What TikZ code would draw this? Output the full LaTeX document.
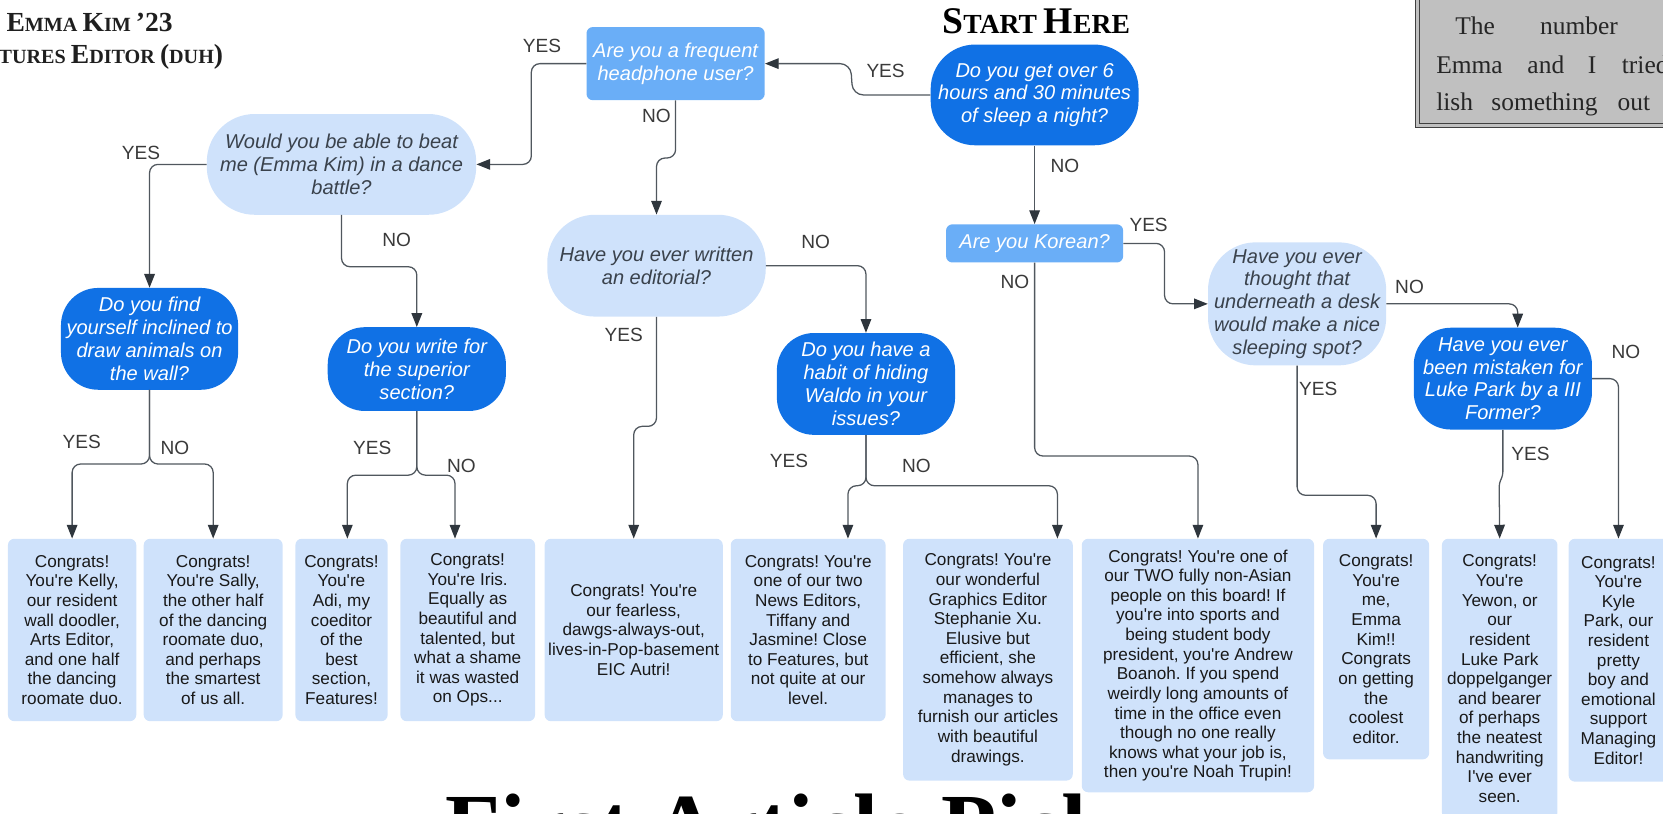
\documentclass[tikz,border=0pt]{standalone}
\usepackage{fontspec}
\setmainfont{Liberation Serif}
\newfontfamily\lsans{Liberation Sans}
\newfontfamily\lserif{Liberation Serif}
\usetikzlibrary{arrows.meta}
\definecolor{darkb}{HTML}{1071E5}
\definecolor{medb}{HTML}{6AAEF7}
\definecolor{lightb}{HTML}{CFE2FB}
\definecolor{linec}{HTML}{50575E}
\definecolor{arrowc}{HTML}{2F363D}
\definecolor{qtext}{HTML}{3A424C}
\definecolor{lblc}{HTML}{3A3A3A}
\definecolor{boxgray}{HTML}{C0C0C0}
\newcommand\qfont{\lsans\itshape\fontsize{18.9}{21.5}\selectfont\frenchspacing}
\newcommand\cfont{\lsans\fontsize{16.2}{18.5}\selectfont\frenchspacing}
\newcommand\hdbig{\fontsize{26}{30}\selectfont}
\newcommand\hdsmall{\fontsize{19}{30}\selectfont}
\newcommand\stbig{\fontsize{35.5}{40}\selectfont}
\newcommand\stsmall{\fontsize{26}{40}\selectfont}
\tikzset{
  q/.style={rectangle, inner sep=0pt, align=center, font=\qfont},
  qdark/.style={q, fill=darkb, text=white, rounded corners=35pt},
  qmed/.style={q, fill=medb, text=white, rounded corners=6pt},
  qlight/.style={q, fill=lightb, text=qtext, rounded corners=45pt},
  congrats/.style={rectangle, inner sep=0pt, align=center, fill=lightb, text=black!90, rounded corners=6pt, font=\cfont},
  conn/.style={draw=linec, line width=1.2pt, rounded corners=8pt, -{Triangle[length=13pt,width=10pt,color=arrowc]}},
  lbl/.style={inner sep=0pt, text=lblc, font=\lsans\fontsize{18}{18}\selectfont},
  boxword/.style={anchor=base west, inner sep=0pt, text=black!85, font=\lserif\fontsize{24}{28}\selectfont},
  head/.style={inner sep=0pt, text=black!88, font=\lserif\bfseries},
}
\begin{document}
\begin{tikzpicture}[x=1pt,y=-1pt]
\useasboundingbox (0,0) rectangle (1568,767);
\clip (0,0) rectangle (1568,767);

% headers
\node[head, anchor=base east] (hname) at (163,30) {\hdbig E\hdsmall MMA \hdbig K\hdsmall IM \hdbig ’23};
\node[head, anchor=base east] (hrole) at (210.6,59.5) {\hdbig F\hdsmall EATURES \hdbig E\hdsmall DITOR \hdbig(\hdsmall DUH\hdbig)};
\node[head, anchor=base, text=black] (hstart) at (977,31.4) {\stbig S\stsmall TART \stbig H\stsmall ERE};

% gray box
\fill[boxgray] (1335,-5) rectangle (1600,120);
\draw[line width=0.9pt, draw=black!75] (1335,-5) rectangle (1600,120);
\draw[line width=0.7pt, draw=black!75] (1338.5,-5) rectangle (1600,116.5);
\node[boxword] (w1) at (1372,33) {The};
\node[boxword] (w2) at (1452,33) {number};
\node[boxword] (w3) at (1354,69) {Emma};
\node[boxword] (w4) at (1440,69) {and};
\node[boxword] (w5) at (1497,69) {I};
\node[boxword] (w6) at (1529,69) {tried};
\node[boxword] (w7) at (1354,104) {lish};
\node[boxword] (w8) at (1406,104) {something};
\node[boxword] (w9) at (1525,104) {out};

% question nodes
\node[qdark, rounded corners=42pt, minimum width=196pt, minimum height=95pt] (start) at (975.5,89.5) {Do you get over 6\\hours and 30 minutes\\of sleep a night?};
\node[qmed, minimum width=168pt, minimum height=69pt] (headphone) at (637,60) {Are you a frequent\\headphone user?};
\node[qlight, minimum width=254pt, minimum height=95pt] (dance) at (322,155) {Would you be able to beat\\me (Emma Kim) in a dance\\battle?};
\node[qlight, minimum width=206pt, minimum height=96pt] (editorial) at (619,250.5) {Have you ever written\\an editorial?};
\node[qmed, minimum width=167pt, minimum height=36pt] (korean) at (975.5,229.5) {Are you Korean?};
\node[qlight, minimum width=168pt, minimum height=116pt] (desk) at (1223,286.5) {Have you ever\\thought that\\underneath a desk\\would make a nice\\sleeping spot?};
\node[qdark, minimum width=167pt, minimum height=96pt] (animals) at (141,319.5) {Do you find\\yourself inclined to\\draw animals on\\the wall?};
\node[qdark, minimum width=168pt, minimum height=79pt] (superior) at (393,348) {Do you write for\\the superior\\section?};
\node[qdark, minimum width=168pt, minimum height=96pt] (waldo) at (816.5,362) {Do you have a\\habit of hiding\\Waldo in your\\issues?};
\node[qdark, minimum width=168pt, minimum height=96pt] (luke) at (1417,357) {Have you ever\\been mistaken for\\Luke Park by a III\\Former?};

% result nodes
\node[congrats, minimum width=121pt, minimum height=172pt] (kelly) at (68,594) {Congrats!\\You're Kelly,\\our resident\\wall doodler,\\Arts Editor,\\and one half\\the dancing\\roomate duo.};
\node[congrats, minimum width=131pt, minimum height=172pt] (sally) at (201,594) {Congrats!\\You're Sally,\\the other half\\of the dancing\\roomate duo,\\and perhaps\\the smartest\\of us all.};
\node[congrats, minimum width=87pt, minimum height=172pt] (adi) at (322,594) {Congrats!\\You're\\Adi, my\\coeditor\\of the\\best\\section,\\Features!};
\node[congrats, minimum width=127pt, minimum height=172pt] (iris) at (441,594) {Congrats!\\You're Iris.\\Equally as\\beautiful and\\talented, but\\what a shame\\it was wasted\\on Ops...};
\node[congrats, minimum width=168pt, minimum height=172pt] (autri) at (597.5,594) {Congrats! You're\\our fearless,\\dawgs-always-out,\\lives-in-Pop-basement\\EIC Autri!};
\node[congrats, minimum width=146pt, minimum height=172pt] (news) at (762,594) {Congrats! You're\\one of our two\\News Editors,\\Tiffany and\\Jasmine! Close\\to Features, but\\not quite at our\\level.};
\node[congrats, minimum width=160pt, minimum height=228pt] (graphics) at (931.5,622) {Congrats! You're\\our wonderful\\Graphics Editor\\Stephanie Xu.\\Elusive but\\efficient, she\\somehow always\\manages to\\furnish our articles\\with beautiful\\drawings.};
\node[congrats, minimum width=219pt, minimum height=239pt] (trupin) at (1129.5,627.5) {Congrats! You're one of\\our TWO fully non-Asian\\people on this board! If\\you're into sports and\\being student body\\president, you're Andrew\\Boanoh. If you spend\\weirdly long amounts of\\time in the office even\\though no one really\\knows what your job is,\\then you're Noah Trupin!};
\node[congrats, minimum width=100pt, minimum height=208pt] (me) at (1297.5,612) {Congrats!\\You're\\me,\\Emma\\Kim!!\\Congrats\\on getting\\the\\coolest\\editor.};
\node[congrats, minimum width=109pt, minimum height=264pt] (yewon) at (1414,640) {Congrats!\\You're\\Yewon, or\\our\\resident\\Luke Park\\doppelganger\\and bearer\\of perhaps\\the neatest\\handwriting\\I've ever\\seen.};
\node[congrats, minimum width=94pt, minimum height=229pt] (kyle) at (1526,622.5) {Congrats!\\You're\\Kyle\\Park, our\\resident\\pretty\\boy and\\emotional\\support\\Managing\\Editor!};

% connectors
\draw[conn, rounded corners=10pt] (start.west) -- (804,89.5) -- (802,60) -- (headphone.east);
\draw[conn] (headphone.west) -- (501,60) -- (501,155) -- (dance.east);
\draw[conn] (headphone.south) -- (637,149) -- (619,149) -- (editorial.north);
\draw[conn] (dance.west) -| (animals.north);
\draw[conn] (dance.south) -- (322,251.5) -| (superior.north);
\draw[conn] (animals.south) -- (141,437.5) -| (kelly.north);
\draw[conn] (animals.south) -- (141,437.5) -| (sally.north);
\draw[conn] (superior.south) -- (393,448) -| ([xshift=5.5pt]adi.north);
\draw[conn] (superior.south) -- (393,448) -| ([xshift=-12pt]iris.north);
\draw[conn] (editorial.south) -- (619,402) -- (597.5,402) -- (autri.north);
\draw[conn] (editorial.east) -| (waldo.north);
\draw[conn] (waldo.south) -- (816.5,458) -| ([xshift=37.5pt]news.north);
\draw[conn] (waldo.south) -- (816.5,458) -| ([xshift=65.5pt]graphics.north);
\draw[conn] (start.south) -- (korean.north);
\draw[conn] (korean.east) -- (1098,229.5) |- (desk.west);
\draw[conn] (korean.south) -- (975.5,430) -| (trupin.north);
\draw[conn] (desk.east) -| ([xshift=14pt]luke.north);
\draw[conn] (desk.south) -- (1223,467) -| (me.north);
\draw[conn, rounded corners=3pt] (luke.south) -- (1417,448) -- (1413.5,456) -- (yewon.north);
\draw[conn] (luke.east) -| (kyle.north);

% labels
\node[lbl] (l1) at (835,67) {YES};
\node[lbl] (l2) at (511,43) {YES};
\node[lbl] (l3) at (619,109) {NO};
\node[lbl] (l4) at (133,144) {YES};
\node[lbl] (l5) at (374,226) {NO};
\node[lbl] (l6) at (77,417) {YES};
\node[lbl] (l7) at (165,422) {NO};
\node[lbl] (l8) at (351,422) {YES};
\node[lbl] (l9) at (435,439) {NO};
\node[lbl] (l10) at (588,316) {YES};
\node[lbl] (l11) at (769,228) {NO};
\node[lbl] (l12) at (744,435) {YES};
\node[lbl] (l13) at (864,439) {NO};
\node[lbl] (l14) at (1004,156) {NO};
\node[lbl] (l15) at (1083,212) {YES};
\node[lbl] (l16) at (957,266) {NO};
\node[lbl] (l17) at (1329,271) {NO};
\node[lbl] (l18) at (1243,367) {YES};
\node[lbl] (l19) at (1443,428) {YES};
\node[lbl] (l20) at (1533,332) {NO};

% bottom title
\node[anchor=base west, inner sep=0pt, text=black, font=\lserif\bfseries\fontsize{85}{90}\selectfont] (title) at (420,808) {First Article Pick};
\end{tikzpicture}
\end{document}
